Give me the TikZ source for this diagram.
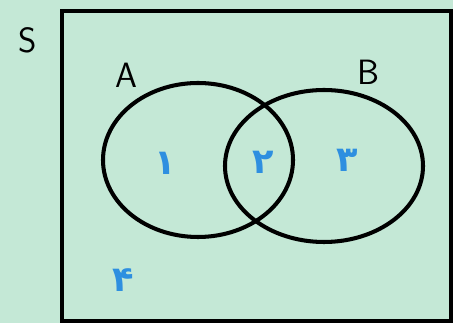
\documentclass[tikz,border=0pt]{standalone}
\usepackage{fontspec}
\usepackage{xcolor}
\usepackage{tikz}
\newfontfamily\arabicfont[Script=Arabic]{DejaVu Sans}
\TeXXeTstate=1
\definecolor{fondo}{HTML}{C4E8D6}
\definecolor{cifra}{HTML}{2E8FE0}
\tikzset{
  conjunto/.style={draw=black, line width=2.3pt},
  universo/.style={draw=black, line width=2.3pt},
  etiqueta/.style={font=\sffamily\fontsize{20}{20}\selectfont, inner sep=0pt},
  region/.style={text=cifra, font=\arabicfont\bfseries\fontsize{20}{20}\selectfont, inner sep=0pt}
}
\begin{document}
\begin{tikzpicture}[x=0.02cm, y=-0.02cm]
  \fill[fondo] (0,0) rectangle (453,323);
  \useasboundingbox (0,0) rectangle (453,323);
  \draw[universo] (62,11) rectangle (451,321);
  \draw[conjunto] (198,160) ellipse [x radius=95, y radius=77];
  \draw[conjunto] (324,166) ellipse [x radius=99, y radius=76];
  \node[etiqueta] (s) at (28,40) {S};
  \node[etiqueta] (a) at (126,75) {A};
  \node[etiqueta] (b) at (368,72) {B};
  \node[region] (r1) at (165,163) {\beginR ۱\endR};
  \node[region] (r2) at (263,162) {\beginR ۲\endR};
  \node[region] (r3) at (347,160) {\beginR ۳\endR};
  \node[region] (r4) at (123,280) {\beginR ۴\endR};
\end{tikzpicture}
\end{document}
